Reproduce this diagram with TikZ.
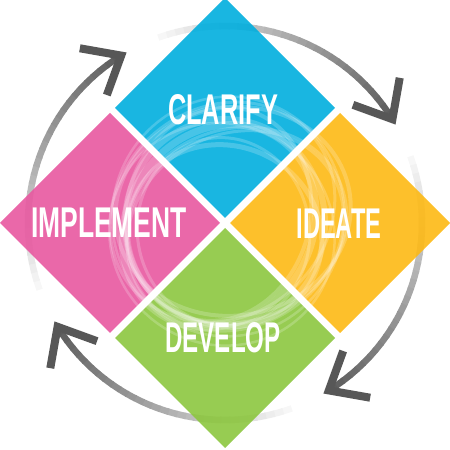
\documentclass[tikz,border=0pt]{standalone}
\usepackage{fontspec}
\setmainfont{Liberation Sans}
\definecolor{cblue}{RGB}{0,174,222}
\definecolor{cpink}{RGB}{232,88,160}
\definecolor{corange}{RGB}{253,185,20}
\definecolor{cgreen}{RGB}{140,198,63}
\tikzset{
  diamondfill/.style={fill opacity=0.9},
  labeltext/.style={text=white, font=\fontsize{43}{43}\selectfont\bfseries, inner sep=0pt},
  arcseg/.style={line width=6.5pt, line cap=butt},
  chevron/.style={line width=8pt, line join=miter, miter limit=10, line cap=butt, draw=black!66},
  swirl/.style={draw=white, draw opacity=0.2},
}
\begin{document}
\begin{tikzpicture}[x=1pt,y=1pt]
\useasboundingbox (0,0) rectangle (450,450);
\coordinate (C) at (225,227);
% circular arrows
\begin{scope}[shift={(C)}]
  \foreach \t in {30,-60,-150,120}{
    \foreach \i in {0,...,29}{
      \pgfmathsetmacro{\aa}{\t+1.8+78-\i*78/30}
      \pgfmathsetmacro{\ab}{\aa-78/30-0.4}
      \pgfmathsetmacro{\p}{3+\i*2.1}
      \draw[arcseg, draw=black!\p] (\aa:197) arc[start angle=\aa, end angle=\ab, radius=197];
    }
    \begin{scope}[shift={(\t+1.8:197)}]
      \draw[chevron] (\t+50:42) -- (0,0) -- (\t+130:42);
    \end{scope}
  }
\end{scope}
% diamonds
\fill[cblue, diamondfill] (225,452) -- (335,342) -- (225,232) -- (115,342) -- cycle;
\fill[cpink, diamondfill] (110,337) -- (220,227) -- (110,117) -- (0,227) -- cycle;
\fill[corange, diamondfill] (340,337) -- (450,227) -- (340,117) -- (230,227) -- cycle;
\fill[cgreen, diamondfill] (225,222) -- (335,112) -- (225,2) -- (115,112) -- cycle;
% watermark swirl
\begin{scope}[shift={(C)}]
  \foreach \dx/\dy/\rx/\ry/\rot/\lw in {
     0/0/100/104/0/6, 10/-6/112/96/20/3, -9/7/92/108/-15/4,
     5/10/118/104/40/3, -12/-4/90/98/70/5, 4/-11/114/110/-35/2.5,
     -6/3/106/92/55/7, 12/5/96/112/-60/3, -3/-8/86/94/10/3,
     7/-2/120/116/80/2.5, -10/10/104/118/-80/4}{
    \draw[swirl, line width=\lw pt, rotate=\rot] (\dx,\dy) ellipse [x radius=\rx, y radius=\ry];
  }
\end{scope}
% labels
\node[labeltext] (clarify) at (223,340) {\scalebox{0.59}[1]{CLARIFY}};
\node[labeltext] (implement) at (109,227) {\scalebox{0.615}[1]{IMPLEMENT}};
\node[labeltext] (ideate) at (339,226) {\scalebox{0.55}[1]{IDEATE}};
\node[labeltext] (develop) at (223,112) {\scalebox{0.56}[1]{DEVELOP}};
\end{tikzpicture}
\end{document}
